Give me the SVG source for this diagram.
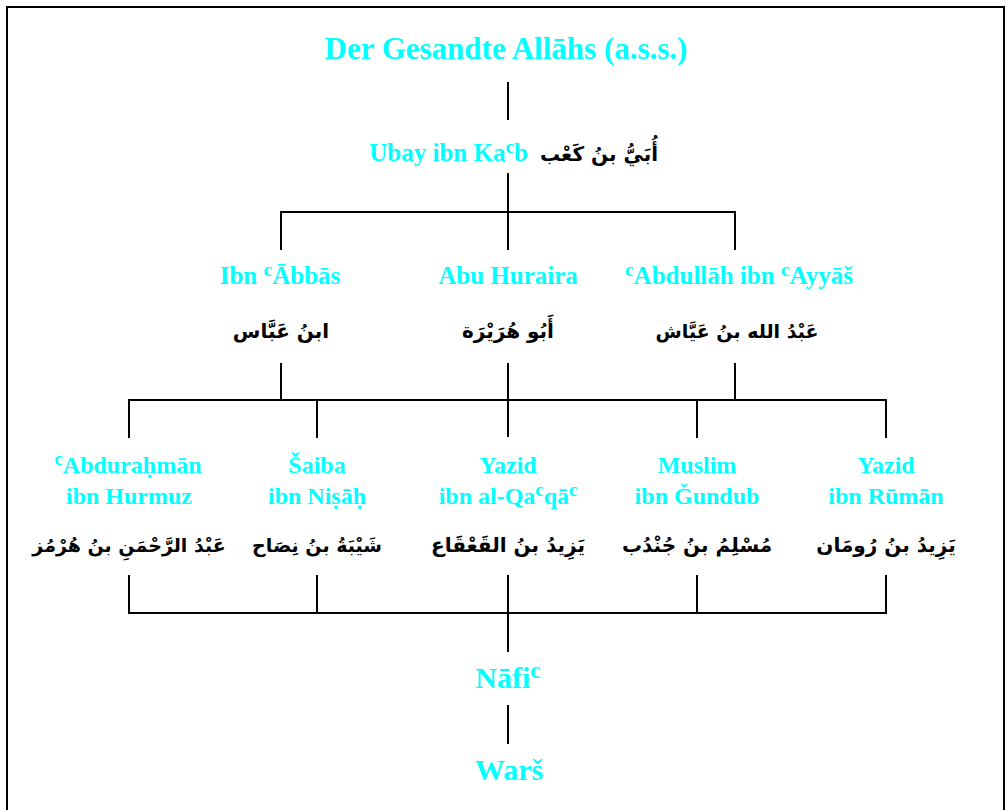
<svg xmlns="http://www.w3.org/2000/svg" width="1006" height="810" viewBox="0 0 1006 810">
<style>
.n{font-family:"Liberation Serif","Times New Roman",serif;font-weight:bold;fill:#00FFFF;text-anchor:middle}
.a{font-family:"DejaVu Sans",sans-serif;font-weight:bold;fill:#000;text-anchor:middle;font-size:20px}
.s{font-size:78%}
.c line{stroke:#000;stroke-width:2}
</style>
<rect x="7" y="7" width="997" height="820" fill="#fff" stroke="#000" stroke-width="2"/>
<g class="c" id="connectors">
<line x1="508" y1="82" x2="508" y2="120"/>
<line x1="508" y1="173" x2="508" y2="212"/>
<line x1="280" y1="212" x2="736" y2="212"/>
<line x1="281" y1="211" x2="281" y2="250"/>
<line x1="508" y1="211" x2="508" y2="250"/>
<line x1="735" y1="211" x2="735" y2="250"/>
<line x1="281" y1="363" x2="281" y2="400"/>
<line x1="508" y1="363" x2="508" y2="400"/>
<line x1="735" y1="363" x2="735" y2="400"/>
<line x1="128" y1="400" x2="887" y2="400"/>
<line x1="129" y1="399" x2="129" y2="438"/>
<line x1="317" y1="399" x2="317" y2="438"/>
<line x1="508" y1="399" x2="508" y2="437"/>
<line x1="697" y1="399" x2="697" y2="438"/>
<line x1="886" y1="399" x2="886" y2="438"/>
<line x1="129" y1="575" x2="129" y2="614"/>
<line x1="317" y1="575" x2="317" y2="614"/>
<line x1="697" y1="575" x2="697" y2="614"/>
<line x1="886" y1="575" x2="886" y2="614"/>
<line x1="128" y1="613" x2="887" y2="613"/>
<line x1="508" y1="575" x2="508" y2="652"/>
<line x1="508" y1="705" x2="508" y2="744"/>
</g>
<g id="prophet"><text class="n" x="506" y="59" font-size="31">Der Gesandte Allāhs (a.s.s.)</text></g>
<g id="ubay">
<text class="n" x="528" y="161" font-size="25" style="text-anchor:end">Ubay ibn Ka<tspan class="s" dy="-8">c</tspan><tspan dy="8">b</tspan></text>
<text class="a" x="599" y="161">أُبَيُّ بنُ كَعْب</text>
</g>
<g id="ibnabbas">
<text class="n" x="280" y="284" font-size="25">Ibn <tspan class="s" dy="-8">c</tspan><tspan dy="8">Ābbās</tspan></text>
<text class="a" x="281" y="338">ابنُ عَبَّاس</text>
</g>
<g id="abuhuraira">
<text class="n" x="508" y="284" font-size="25">Abu Huraira</text>
<text class="a" x="508" y="338">أَبُو هُرَيْرَة</text>
</g>
<g id="abdullah">
<text class="n" x="739" y="284" font-size="25"><tspan class="s" dy="-8">c</tspan><tspan dy="8">Abdullāh ibn </tspan><tspan class="s" dy="-8">c</tspan><tspan dy="8">Ayyāš</tspan></text>
<text class="a" x="737" y="338" style="font-size:19px">عَبْدُ الله بنُ عَيَّاش</text>
</g>
<g id="abdurahman">
<text class="n" x="128" y="473" font-size="24"><tspan class="s" dy="-8">c</tspan><tspan dy="8">Abduraḥmān</tspan></text>
<text class="n" x="129" y="504" font-size="24">ibn Hurmuz</text>
<text class="a" x="129" y="552" style="font-size:19px">عَبْدُ الرَّحْمَنِ بنُ هُرْمُز</text>
</g>
<g id="saiba">
<text class="n" x="317" y="473" font-size="24">Šaiba</text>
<text class="n" x="317" y="504" font-size="24">ibn Niṣāḥ</text>
<text class="a" x="317" y="552" style="font-size:19px">شَيْبَةُ بنُ نِصَاح</text>
</g>
<g id="yazid1">
<text class="n" x="508" y="473" font-size="24">Yazid</text>
<text class="n" x="508" y="504" font-size="24">ibn al-Qa<tspan class="s" dy="-8">c</tspan><tspan dy="8">qā</tspan><tspan class="s" dy="-8">c</tspan></text>
<text class="a" x="508" y="552">يَزِيدُ بنُ القَعْقَاع</text>
</g>
<g id="muslim">
<text class="n" x="697" y="473" font-size="24">Muslim</text>
<text class="n" x="697" y="504" font-size="24">ibn Ǧundub</text>
<text class="a" x="697" y="552">مُسْلِمُ بنُ جُنْدُب</text>
</g>
<g id="yazid2">
<text class="n" x="886" y="473" font-size="24">Yazid</text>
<text class="n" x="886" y="504" font-size="24">ibn Rūmān</text>
<text class="a" x="886" y="552">يَزِيدُ بنُ رُومَان</text>
</g>
<g id="nafi"><text class="n" x="508" y="688" font-size="30">Nāfi<tspan class="s" dy="-10">c</tspan></text></g>
<g id="wars"><text class="n" x="509" y="780" font-size="30">Warš</text></g>
</svg>
